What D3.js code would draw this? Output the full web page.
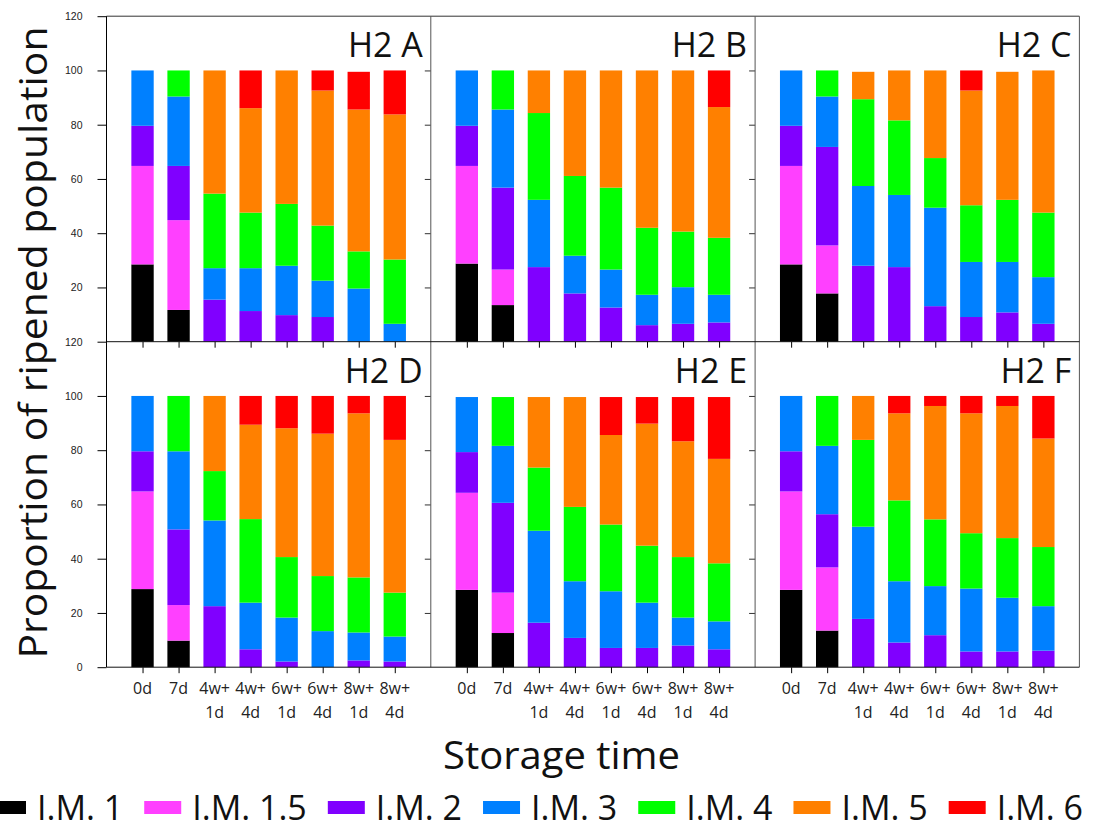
<!DOCTYPE html>
<html>
<head>
<meta charset="utf-8">
<script src="https://cdn.jsdelivr.net/npm/d3@7"></script>
<style>
  body { margin: 0; background: #fff; }
  svg { display: block; }
</style>
</head>
<body>
<svg id="chart" width="1100" height="829"></svg>
<script>
// Storage times on the x axis ("|" marks the line break)
const storageTimes = ["0d", "7d", "4w+|1d", "4w+|4d", "6w+|1d", "6w+|4d", "8w+|1d", "8w+|4d"];
// Ripening index classes (stack order, bottom to top)
const classes = ["I.M. 1", "I.M. 1.5", "I.M. 2", "I.M. 3", "I.M. 4", "I.M. 5", "I.M. 6"];
const classColors = ["#000000", "#ff40ff", "#8000ff", "#0080ff", "#00ff00", "#ff8000", "#ff0000"];
const panelNames = ["H2 A", "H2 B", "H2 C", "H2 D", "H2 E", "H2 F"];
const yTicks = [0, 20, 40, 60, 80, 100, 120];

// Proportion (%) of each class per storage time; one row per class
const h2A = [
  [28.5, 11.7, 0, 0, 0, 0, 0, 0],
  [36.3, 33.1, 0, 0, 0, 0, 0, 0],
  [14.8, 20.0, 15.5, 11.3, 9.8, 9.1, 0, 0],
  [20.4, 25.6, 11.6, 15.8, 18.2, 13.4, 19.6, 6.6],
  [0, 9.6, 27.5, 20.5, 22.8, 20.3, 13.7, 23.7],
  [0, 0, 45.4, 38.5, 49.2, 49.8, 52.3, 53.5],
  [0, 0, 0, 13.9, 0, 7.4, 13.9, 16.2]
];
const h2B = [
  [28.8, 13.5, 0, 0, 0, 0, 0, 0],
  [36.0, 13.1, 0, 0, 0, 0, 0, 0],
  [14.8, 30.2, 27.5, 17.8, 12.6, 6.1, 6.6, 7.1],
  [20.4, 28.8, 24.8, 13.9, 14.0, 11.2, 13.5, 10.2],
  [0, 14.4, 32.0, 29.4, 30.2, 24.7, 20.5, 21.0],
  [0, 0, 15.7, 38.9, 43.2, 58.0, 59.4, 48.2],
  [0, 0, 0, 0, 0, 0, 0, 13.5]
];
const h2C = [
  [28.5, 17.8, 0, 0, 0, 0, 0, 0],
  [36.3, 17.7, 0, 0, 0, 0, 0, 0],
  [14.8, 36.3, 28.0, 27.5, 13.1, 9.1, 10.8, 6.6],
  [20.4, 18.6, 29.4, 26.6, 36.3, 20.3, 18.6, 17.2],
  [0, 9.6, 32.0, 27.5, 18.3, 20.9, 22.9, 23.8],
  [0, 0, 10.1, 18.4, 32.3, 42.3, 47.2, 52.4],
  [0, 0, 0, 0, 0, 7.4, 0, 0]
];
const h2D = [
  [28.8, 9.8, 0, 0, 0, 0, 0, 0],
  [36.0, 13.1, 0, 0, 0, 0, 0, 0],
  [14.8, 27.9, 22.5, 6.6, 2.1, 0, 2.5, 2.1],
  [20.4, 28.8, 31.6, 17.2, 16.2, 13.3, 10.3, 9.2],
  [0, 20.4, 18.2, 30.8, 22.3, 20.3, 20.3, 16.2],
  [0, 0, 27.7, 34.8, 47.5, 52.5, 60.5, 56.3],
  [0, 0, 0, 10.6, 11.9, 13.9, 6.4, 16.2]
];
const h2E = [
  [28.5, 12.6, 0, 0, 0, 0, 0, 0],
  [35.8, 14.9, 0, 0, 0, 0, 0, 0],
  [15.0, 33.1, 16.4, 10.8, 7.1, 7.1, 8.0, 6.6],
  [20.3, 21.0, 33.9, 20.9, 20.9, 16.7, 10.3, 10.3],
  [0, 18.0, 23.3, 27.4, 24.6, 21.0, 22.3, 21.4],
  [0, 0, 26.0, 40.5, 33.0, 45.0, 42.7, 38.5],
  [0, 0, 0, 0, 14.0, 9.8, 16.3, 22.8]
];
const h2F = [
  [28.5, 13.5, 0, 0, 0, 0, 0, 0],
  [36.3, 23.3, 0, 0, 0, 0, 0, 0],
  [14.8, 19.6, 17.8, 9.1, 11.8, 5.8, 5.8, 6.1],
  [20.4, 25.2, 34.0, 22.6, 18.1, 23.2, 19.8, 16.4],
  [0, 18.4, 32.0, 29.8, 24.6, 20.4, 22.0, 21.8],
  [0, 0, 16.2, 32.1, 41.8, 44.2, 48.7, 40.0],
  [0, 0, 0, 6.4, 3.7, 6.4, 3.7, 15.7]
];
const panelData = [h2A, h2B, h2C, h2D, h2E, h2F];

// ---- layout ----
const svg = d3.select("#chart");
const gridLeft = 106.5, panelW = 324.3, panelH = 325.5;
const rowTops = [16.2, 341.7];
const gridRight = gridLeft + 3 * panelW;
const gridBottom = rowTops[1] + panelH;
const uiFont = "'Open Sans', sans-serif";

const stack = d3.stack().keys(d3.range(classes.length));

panelData.forEach((series, p) => {
  const col = p % 3, row = Math.floor(p / 3);
  const x0 = gridLeft + col * panelW;
  const top = rowTops[row];
  const bottom = top + panelH;

  const x = d3.scalePoint().domain(storageTimes).range([x0, x0 + panelW]).padding(1);
  const y = d3.scaleLinear().domain([0, 120]).range([bottom, top]);
  const barW = x.step() * 0.62;

  const rows = storageTimes.map((t, i) => {
    const r = { time: t };
    series.forEach((s, k) => { r[k] = s[i]; });
    return r;
  });
  const layers = stack(rows);

  const g = svg.append("g").attr("class", "panel");
  g.selectAll("g.layer")
    .data(layers)
    .join("g")
    .attr("class", "layer")
    .attr("fill", d => classColors[d.key])
    .selectAll("rect")
    .data(d => d.filter(v => v[1] - v[0] > 0))
    .join("rect")
    .attr("x", d => x(d.data.time) - barW / 2)
    .attr("width", barW)
    .attr("y", d => y(d[1]))
    .attr("height", d => y(d[0]) - y(d[1]));

  // panel title
  g.append("text")
    .attr("x", x0 + panelW - 8)
    .attr("y", top + 41)
    .attr("text-anchor", "end")
    .attr("font-family", uiFont)
    .attr("font-size", 34)
    .attr("fill", "#111")
    .text(panelNames[p]);

  // left value axis on the first column
  if (col === 0) {
    const vals = row === 0 ? yTicks.filter(v => v > 0) : yTicks;
    const ax = g.append("g")
      .attr("transform", `translate(${gridLeft},0)`)
      .call(d3.axisLeft(y).tickValues(vals).tickSize(9).tickPadding(15).tickSizeOuter(0));
    ax.select(".domain").remove();
    ax.selectAll("line").attr("stroke", "#000");
    ax.selectAll("text")
      .attr("font-family", "'Liberation Sans', Arial, sans-serif")
      .attr("font-size", 10.5)
      .attr("fill", "#222");
  }

  // inner right ticks on first two columns
  if (col < 2) {
    const rx = g.append("g")
      .attr("transform", `translate(${x0 + panelW},0)`)
      .call(d3.axisLeft(y).tickValues([20, 40, 60, 80, 100]).tickSize(6).tickFormat("").tickSizeOuter(0));
    rx.select(".domain").remove();
    rx.selectAll("line").attr("stroke", "#333");
  }

  // category ticks along the bottom
  const bx = g.append("g")
    .attr("transform", `translate(0,${bottom})`)
    .call(d3.axisBottom(x).tickSize(6).tickFormat("").tickSizeOuter(0));
  bx.select(".domain").remove();
  bx.selectAll("line").attr("stroke", "#000");

  // two-line category labels under the bottom row
  if (row === 1) {
    const lbl = g.append("g")
      .attr("font-family", uiFont)
      .attr("font-size", 16)
      .attr("fill", "#222")
      .attr("text-anchor", "middle");
    storageTimes.forEach(t => {
      const parts = t.split("|");
      const tx = lbl.append("text").attr("x", x(t));
      parts.forEach((part, j) => {
        tx.append("tspan").attr("x", x(t)).attr("y", bottom + 27 + j * 24).text(part);
      });
    });
  }
});

// ---- panel frames ----
const frame = svg.append("g").attr("fill", "none");
frame.append("line").attr("x1", gridLeft).attr("x2", gridRight).attr("y1", rowTops[0]).attr("y2", rowTops[0]).attr("stroke", "#333");
[1, 2, 3].forEach(c => {
  frame.append("line")
    .attr("x1", gridLeft + c * panelW).attr("x2", gridLeft + c * panelW)
    .attr("y1", rowTops[0]).attr("y2", gridBottom)
    .attr("stroke", "#555");
});
[rowTops[1], gridBottom].forEach(yy => {
  frame.append("line").attr("x1", gridLeft).attr("x2", gridRight).attr("y1", yy).attr("y2", yy).attr("stroke", "#111");
});
frame.append("line").attr("x1", gridLeft).attr("x2", gridLeft).attr("y1", rowTops[0]).attr("y2", gridBottom).attr("stroke", "#000");

// ---- axis titles ----
svg.append("text")
  .attr("transform", `translate(47,${(25 + 660) / 2}) rotate(-90)`)
  .attr("text-anchor", "middle")
  .attr("font-family", uiFont)
  .attr("font-size", 38)
  .attr("textLength", 632)
  .attr("lengthAdjust", "spacingAndGlyphs")
  .attr("fill", "#111")
  .text("Proportion of ripened population");

svg.append("text")
  .attr("x", 561.5)
  .attr("y", 769)
  .attr("text-anchor", "middle")
  .attr("font-family", uiFont)
  .attr("font-size", 38)
  .attr("textLength", 237)
  .attr("lengthAdjust", "spacingAndGlyphs")
  .attr("fill", "#111")
  .text("Storage time");

// ---- legend ----
const legend = svg.append("g").attr("font-family", uiFont).attr("font-size", 34).attr("fill", "#111");
let lx = -11;
classes.forEach((c, i) => {
  legend.append("rect")
    .attr("x", lx).attr("y", 801).attr("width", 37).attr("height", 13)
    .attr("fill", classColors[i]);
  lx += 37 + 11;
  const t = legend.append("text").attr("x", lx).attr("y", 820).text(c);
  lx += t.node().getComputedTextLength() + 21;
});
</script>
</body>
</html>
